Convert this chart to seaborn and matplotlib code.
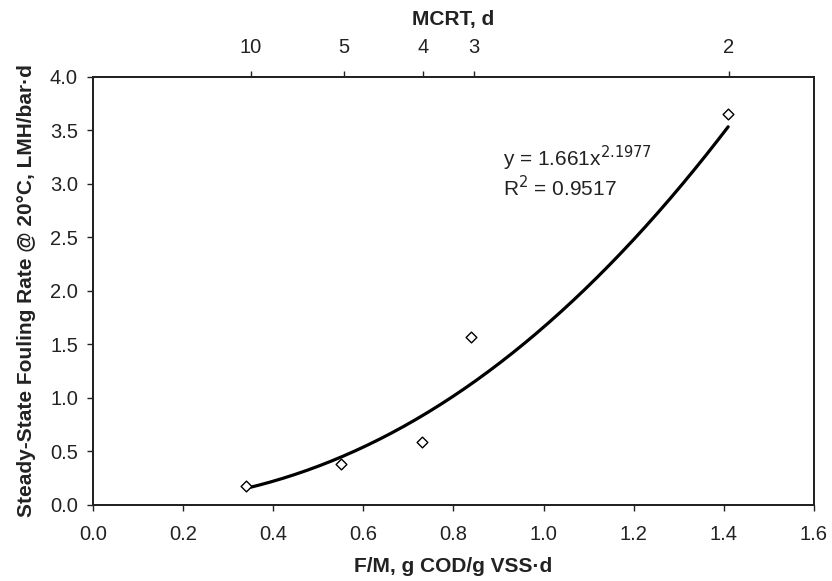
import numpy as np
import pandas as pd
import seaborn as sns
import matplotlib.pyplot as plt

# measured points
fm = [0.34, 0.55, 0.73, 0.84, 1.41]
fouling = [0.18, 0.38, 0.585, 1.565, 3.65]

# top axis: MCRT values and where they sit on the F/M scale
mcrt_pos = [0.35, 0.557, 0.732, 0.845, 1.412]
mcrt_labels = ['10', '5', '4', '3', '2']

# power trendline as printed on the chart
coef_a = 1.661
coef_b = 2.1977
r2 = 0.9517

sns.set_style('ticks')
plt.rcParams['font.family'] = ['Liberation Sans', 'DejaVu Sans']

points = pd.DataFrame({'fm': fm, 'rate': fouling})
xs = np.linspace(min(fm), max(fm), 200)
trend = pd.DataFrame({'fm': xs, 'rate': coef_a * xs ** coef_b})

fig, ax = plt.subplots(figsize=(8.32, 5.81), dpi=100)
fig.subplots_adjust(left=0.112, right=0.978, top=0.8675, bottom=0.131)

sns.lineplot(x='fm', y='rate', data=trend, ax=ax, color='black', linewidth=2.3)
sns.scatterplot(x='fm', y='rate', data=points, ax=ax, marker='D', s=30,
                facecolor='white', edgecolor='black', linewidth=1.0, zorder=5)

ax.set_xlim(0, 1.6)
ax.set_ylim(0, 4.0)
ax.set_xticks(np.arange(0, 1.61, 0.2))
ax.set_yticks(np.arange(0, 4.01, 0.5))
ax.xaxis.set_major_formatter(plt.FormatStrFormatter('%.1f'))
ax.yaxis.set_major_formatter(plt.FormatStrFormatter('%.1f'))
ax.tick_params(labelsize=14.5, length=4.5, width=1, colors='#222222')
ax.tick_params(axis='x', pad=10)
ax.tick_params(axis='y', pad=6.5)

ax.set_xlabel('F/M, g COD/g VSS·d', fontsize=15, fontweight='bold', labelpad=9,
              color='#222222')
ax.set_ylabel('Steady-State Fouling Rate @ 20°C, LMH/bar·d', fontsize=15,
              fontweight='bold', labelpad=10, color='#222222')

for sp in ax.spines.values():
    sp.set_visible(True)
    sp.set_linewidth(1.4)
    sp.set_color('#222222')

top = ax.twiny()
top.set_xlim(ax.get_xlim())
top.set_xticks(mcrt_pos)
top.set_xticklabels(mcrt_labels)
top.tick_params(labelsize=14.5, length=4.5, width=1, pad=10, colors='#222222')
top.set_xlabel('MCRT, d', fontsize=15, fontweight='bold', labelpad=9, color='#222222')
for sp in top.spines.values():
    sp.set_linewidth(1.4)
    sp.set_color('#222222')

ax.text(0.911, 3.17, 'y = %.3fx$^{%.4f}$' % (coef_a, coef_b), fontsize=15,
        color='#222222', va='baseline')
ax.text(0.911, 2.89, 'R$^{2}$ = %.4f' % r2, fontsize=15, color='#222222',
        va='baseline')

fig.savefig('out.png', dpi=100)
